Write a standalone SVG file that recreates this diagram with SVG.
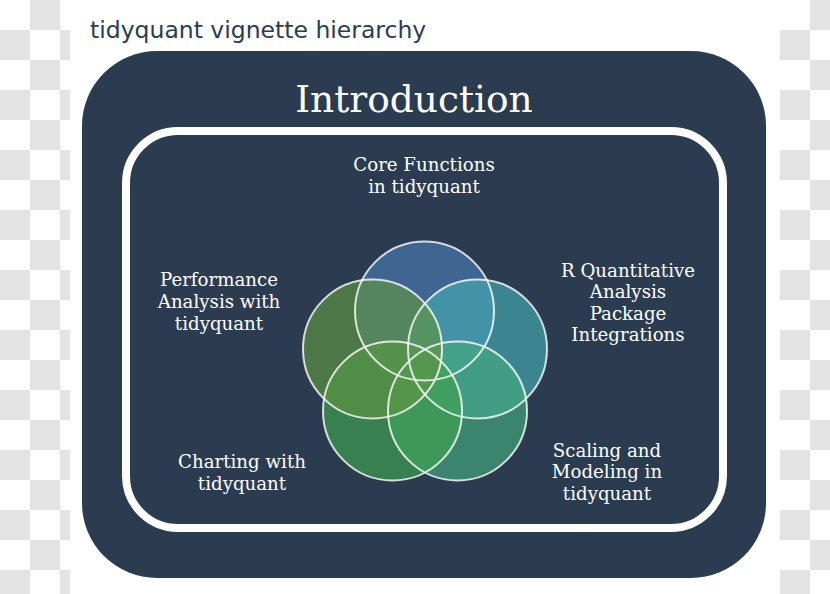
<svg xmlns="http://www.w3.org/2000/svg" width="830" height="594" viewBox="0 0 830 594">
  <defs>
    <pattern id="checker" x="0" y="0" width="60" height="60" patternUnits="userSpaceOnUse">
      <rect width="60" height="60" fill="#ffffff"/>
      <rect x="30" y="0" width="30" height="30" fill="#e3e3e3"/>
      <rect x="0" y="30" width="30" height="30" fill="#e3e3e3"/>
    </pattern>
  </defs>
  <style>
    .title { font-family: "DejaVu Sans", Verdana, sans-serif; font-size: 23.5px; fill: #2b3c50; }
    .head { font-family: "DejaVu Serif", serif; font-size: 37.5px; fill: #ffffff; }
    .lbl { font-family: "DejaVu Serif", serif; font-size: 18.2px; fill: #ffffff; text-anchor: middle; }
    .circ { fill-opacity: 0.68; }
    .ring { fill: none; stroke: #ffffff; stroke-opacity: 0.8; stroke-width: 2; }
  </style>
  <rect width="830" height="594" fill="#ffffff"/>
  <rect x="0" y="0" width="70" height="594" fill="url(#checker)"/>
  <rect x="780" y="0" width="50" height="594" fill="url(#checker)"/>

  <text class="title" x="90" y="38">tidyquant vignette hierarchy</text>

  <g id="introduction">
    <rect x="82" y="51" width="684" height="527" rx="75" ry="75" fill="#2b3c50"/>
    <rect x="126" y="131" width="597" height="397" rx="52" ry="52" fill="none" stroke="#ffffff" stroke-width="8"/>
    <text class="head" x="414" y="112" text-anchor="middle">Introduction</text>
  </g>

  <g id="connectors"></g>

  <g id="core-functions">
    <circle class="circ" cx="424.5" cy="311" r="69.5" fill="#4a7ab4"/>
    <text class="lbl" x="424" y="171">Core Functions</text>
    <text class="lbl" x="424" y="193">in tidyquant</text>
  </g>
  <g id="r-quant">
    <circle class="circ" cx="477.5" cy="349" r="69.5" fill="#46a8b0"/>
    <text class="lbl" x="628" y="277">R Quantitative</text>
    <text class="lbl" x="628" y="298">Analysis</text>
    <text class="lbl" x="628" y="320">Package</text>
    <text class="lbl" x="628" y="341">Integrations</text>
  </g>
  <g id="scaling">
    <circle class="circ" cx="457.5" cy="411" r="69.5" fill="#44a87e"/>
    <text class="lbl" x="607" y="457">Scaling and</text>
    <text class="lbl" x="607" y="478">Modeling in</text>
    <text class="lbl" x="607" y="500">tidyquant</text>
  </g>
  <g id="charting">
    <circle class="circ" cx="392.5" cy="411" r="69.5" fill="#40a04f"/>
    <text class="lbl" x="242" y="468">Charting with</text>
    <text class="lbl" x="242" y="490">tidyquant</text>
  </g>
  <g id="performance">
    <circle class="circ" cx="372.5" cy="349" r="69.5" fill="#5e9444"/>
    <text class="lbl" x="219" y="286">Performance</text>
    <text class="lbl" x="219" y="308">Analysis with</text>
    <text class="lbl" x="219" y="330">tidyquant</text>
  </g>

  <g id="outlines">
    <circle class="ring" cx="424.5" cy="311" r="69.5"/>
    <circle class="ring" cx="477.5" cy="349" r="69.5"/>
    <circle class="ring" cx="457.5" cy="411" r="69.5"/>
    <circle class="ring" cx="392.5" cy="411" r="69.5"/>
    <circle class="ring" cx="372.5" cy="349" r="69.5"/>
  </g>
</svg>
